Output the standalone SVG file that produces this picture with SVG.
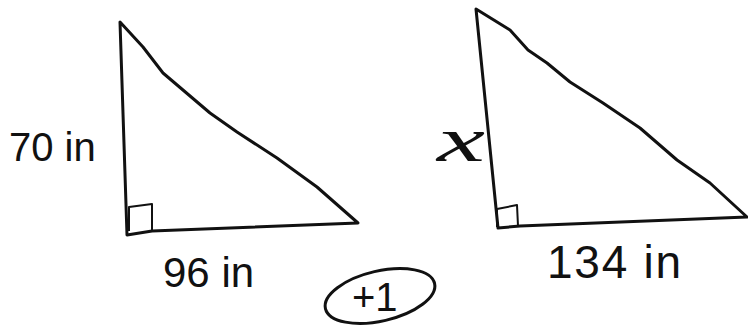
<svg xmlns="http://www.w3.org/2000/svg" width="748" height="329" viewBox="0 0 748 329">
<style>
.ln{fill:none;stroke:#111;stroke-width:3;stroke-linejoin:round;stroke-linecap:round}
.sq{fill:none;stroke:#111;stroke-width:2;stroke-linejoin:round}
.t{font-family:"Liberation Sans",Arial,sans-serif;fill:#111}
</style>
<rect width="748" height="329" fill="#fff"/>
<g id="triangle-left">
<path class="ln" d="M120,22 L127,235 L152,231 L358,223 L317,187 L277,158 L237,132 L210,113 L163,73 L143,47 L120,22 Z"/>
<path class="sq" d="M129,231 L129,207 L152,204 L152,231"/>
</g>
<g id="triangle-right">
<path class="ln" d="M476,9 L498,228 L520,226 L747,217 L710,183 L677,160 L640,128 L603,103 L570,82 L547,63 L528,50 L510,30 L476,9 Z"/>
<path class="sq" d="M497,227 L497,209 L517,205 L518,226"/>
</g>
<g id="label-70"><text class="t" x="9" y="161" font-size="40">70 in</text></g>
<g id="label-96"><text class="t" x="163" y="287" font-size="42">96 in</text></g>
<g id="label-x"><text x="437" y="161" font-size="64" font-style="italic" font-family="'Liberation Serif','Times New Roman',serif" fill="#111" textLength="48" lengthAdjust="spacingAndGlyphs">x</text></g>
<g id="label-134"><text class="t" x="547" y="278" font-size="46" textLength="134">134 in</text></g>
<g id="score">
<ellipse class="ln" cx="380" cy="296" rx="56" ry="25" transform="rotate(-13 380 296)"/>
<text class="t" x="352" y="311" font-size="40">+1</text>
</g>
</svg>
